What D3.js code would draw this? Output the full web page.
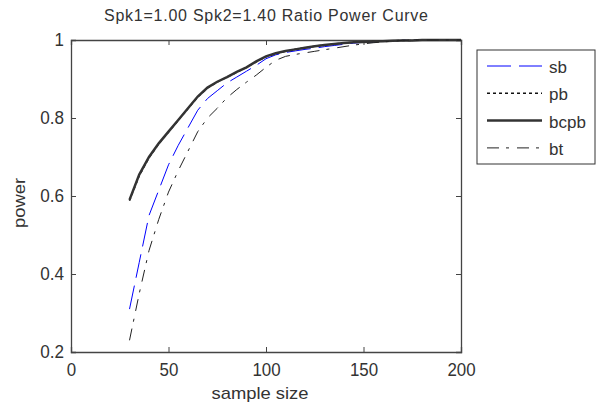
<!DOCTYPE html>
<html>
<head>
<meta charset="utf-8">
<script src="https://cdn.jsdelivr.net/npm/d3@7"></script>
<style>
  body { margin: 0; background: #fff; }
  svg text { font-family: "Liberation Sans", Arial, sans-serif; fill: #333; }
</style>
</head>
<body>
<div id="chart"></div>
<script>
// sample sizes and power estimates
const sampleSize = [30, 35, 40, 45, 50, 55, 60, 65, 70, 75, 80, 85, 90, 95, 100, 105, 110, 115, 120, 125, 130, 135, 140, 145, 150, 155, 160, 165, 170, 175, 180, 185, 190, 195, 200];

const sb   = [0.31, 0.43, 0.55, 0.615, 0.68, 0.73, 0.775, 0.82, 0.85, 0.87, 0.89, 0.905, 0.92, 0.935, 0.952, 0.962, 0.968, 0.972, 0.976, 0.979, 0.983, 0.986, 0.989, 0.992, 0.994, 0.995, 0.997, 0.998, 0.999, 1, 1, 1, 1, 1, 1];
const pb   = [0.588, 0.652, 0.698, 0.734, 0.764, 0.794, 0.824, 0.854, 0.877, 0.892, 0.905, 0.917, 0.93, 0.944, 0.957, 0.965, 0.971, 0.976, 0.98, 0.984, 0.987, 0.99, 0.992, 0.994, 0.995, 0.996, 0.997, 0.998, 0.999, 0.999, 1, 1, 1, 1, 1];
const bcpb = [0.59, 0.655, 0.70, 0.735, 0.765, 0.795, 0.825, 0.855, 0.878, 0.893, 0.905, 0.918, 0.93, 0.945, 0.958, 0.966, 0.972, 0.976, 0.98, 0.984, 0.987, 0.99, 0.992, 0.994, 0.995, 0.996, 0.997, 0.998, 0.999, 0.999, 1, 1, 1, 1, 1];
const bt   = [0.23, 0.35, 0.46, 0.54, 0.61, 0.665, 0.715, 0.765, 0.80, 0.825, 0.852, 0.873, 0.892, 0.91, 0.93, 0.948, 0.958, 0.963, 0.967, 0.971, 0.975, 0.979, 0.983, 0.987, 0.99, 0.993, 0.995, 0.997, 0.999, 1, 1, 1, 1, 1, 1];

const seriesNames = ["sb", "pb", "bcpb", "bt"];
const xTicks = [0, 50, 100, 150, 200];
const yTicks = [0.2, 0.4, 0.6, 0.8, 1];

const styles = {
    sb:   { color: "#0000ff", width: 1,   dash: "24,8" },
    pb:   { color: "#111",    width: 1.5, dash: "3,3" },
    bcpb: { color: "#333",    width: 2.5, dash: null },
    bt:   { color: "#222",    width: 1,   dash: "12,7,3,8" }
};

const width = 605, height = 409;
const margin = { top: 40, right: 144, bottom: 57, left: 71 };

const svg = d3.select("#chart").append("svg")
    .attr("width", width)
    .attr("height", height);

const x = d3.scaleLinear().domain([0, 200]).range([margin.left, width - margin.right]);
const y = d3.scaleLinear().domain([0.2, 1]).range([height - margin.bottom, margin.top]);

const axisColor = "#444";
const tickFont = 18;

// matlab-ish narrow digits: squeeze each tick label to a fixed width
function squeeze(sel) {
    sel.each(function() {
        const t = d3.select(this).text();
        const digits = t.replace(/[^0-9]/g, "").length;
        const dots = t.length - digits;
        d3.select(this)
            .attr("textLength", digits * 9.4 + dots * 5)
            .attr("lengthAdjust", "spacingAndGlyphs");
    });
}

// axes (ticks point inward, box like matlab)
const xAxis = svg.append("g")
    .attr("transform", `translate(0,${y(0.2)})`)
    .call(d3.axisBottom(x).tickValues(xTicks).tickFormat(d3.format("d")).tickSize(-5).tickPadding(11));
const xAxisTop = svg.append("g")
    .attr("transform", `translate(0,${y(1)})`)
    .call(d3.axisTop(x).tickValues(xTicks).tickSize(-5).tickFormat(""));
const yAxis = svg.append("g")
    .attr("transform", `translate(${x(0)},0)`)
    .call(d3.axisLeft(y).tickValues(yTicks).tickFormat(d => d === 1 ? "1" : d3.format(".1f")(d)).tickSize(-5).tickPadding(7));
const yAxisRight = svg.append("g")
    .attr("transform", `translate(${x(200)},0)`)
    .call(d3.axisRight(y).tickValues(yTicks).tickSize(-5).tickFormat(""));

[xAxis, xAxisTop, yAxis, yAxisRight].forEach(g => {
    g.select(".domain").attr("stroke", axisColor).attr("stroke-width", 1.3);
    g.selectAll(".tick line").attr("stroke", axisColor);
    g.selectAll("text")
        .attr("font-size", tickFont)
        .attr("font-family", null)
        .style("fill", "#333")
        .call(squeeze);
});

// lines
const data = { sb: sb, pb: pb, bcpb: bcpb, bt: bt };
const line = d3.line()
    .x((d, i) => x(sampleSize[i]))
    .y(d => y(d));

seriesNames.forEach(name => {
    svg.append("path")
        .datum(data[name])
        .attr("fill", "none")
        .attr("stroke", styles[name].color)
        .attr("stroke-width", styles[name].width)
        .attr("stroke-dasharray", styles[name].dash)
        .attr("d", line);
});

// title and labels
svg.append("text")
    .attr("x", (x(0) + x(200)) / 2)
    .attr("y", 21)
    .attr("text-anchor", "middle")
    .attr("font-size", 16)
    .attr("textLength", 324)
    .attr("lengthAdjust", "spacing")
    .text("Spk1=1.00 Spk2=1.40 Ratio Power Curve");

svg.append("text")
    .attr("x", 260)
    .attr("y", 399)
    .attr("text-anchor", "middle")
    .attr("font-size", 17)
    .attr("textLength", 97)
    .attr("lengthAdjust", "spacingAndGlyphs")
    .text("sample size");

svg.append("text")
    .attr("transform", `translate(25,203) rotate(-90)`)
    .attr("text-anchor", "middle")
    .attr("font-size", 17)
    .attr("textLength", 50)
    .attr("lengthAdjust", "spacingAndGlyphs")
    .text("power");

// legend
const legend = svg.append("g");
legend.append("rect")
    .attr("x", 477).attr("y", 50)
    .attr("width", 118).attr("height", 114)
    .attr("fill", "#fff")
    .attr("stroke", "#333");

seriesNames.forEach((name, i) => {
    const ly = 66 + i * 27.3;
    legend.append("line")
        .attr("x1", 487).attr("x2", 542)
        .attr("y1", ly).attr("y2", ly)
        .attr("stroke", styles[name].color)
        .attr("stroke-width", styles[name].width)
        .attr("stroke-dasharray", styles[name].dash);
    legend.append("text")
        .attr("x", 549).attr("y", ly + 7)
        .attr("font-size", 17)
        .text(name);
});
</script>
</body>
</html>
